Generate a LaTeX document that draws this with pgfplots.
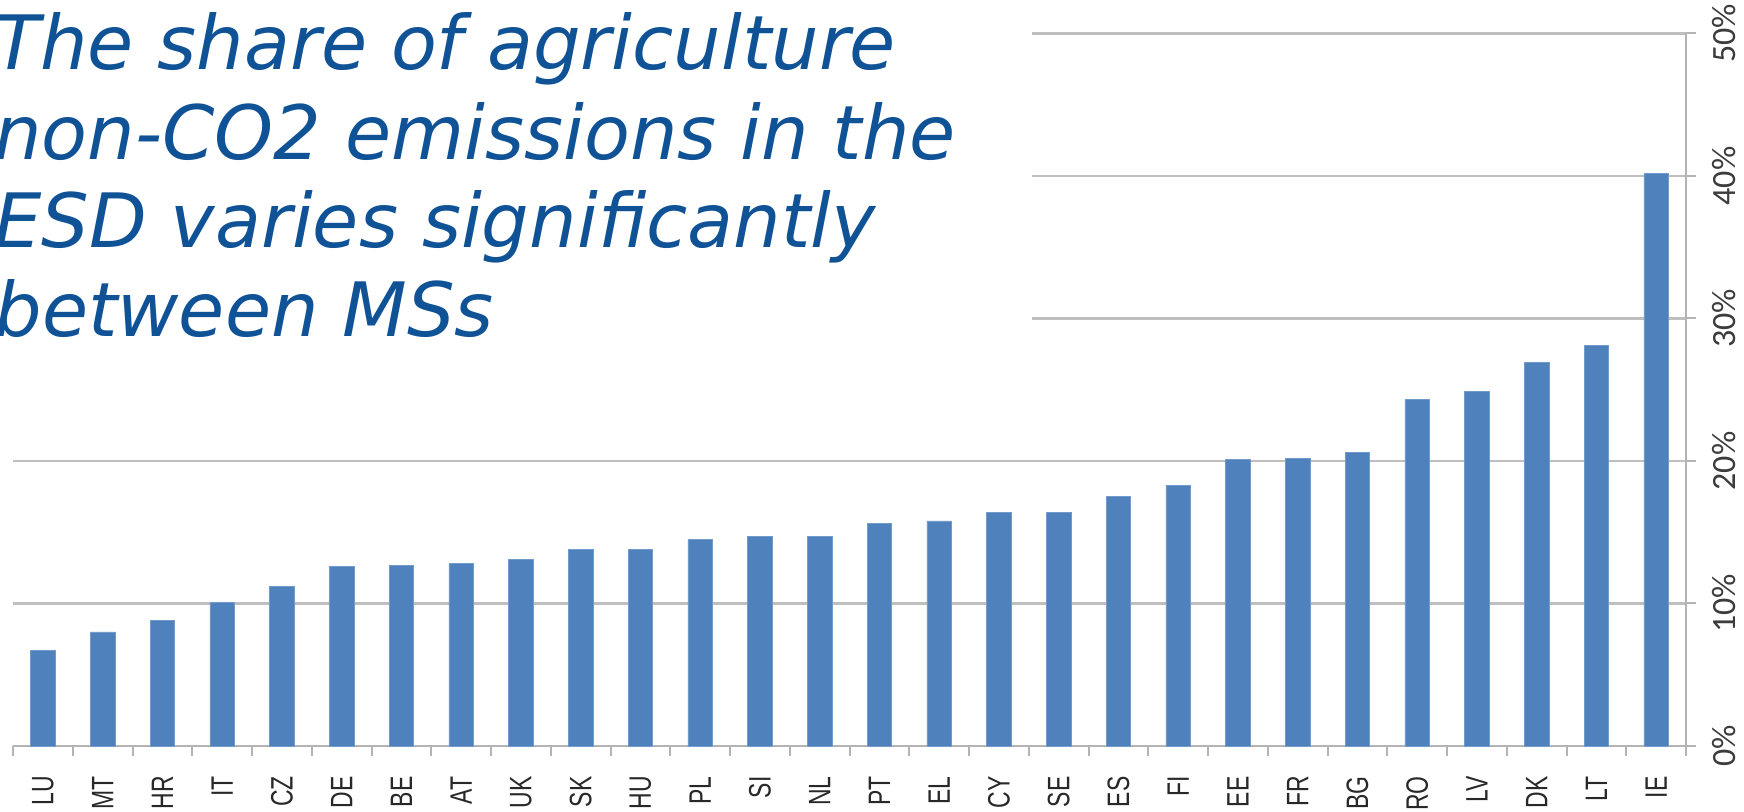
\documentclass[border=0pt]{standalone}
\usepackage{fontspec}
\usepackage{graphicx}
\usepackage{pgfplots}
\pgfplotsset{compat=1.18}
\setmainfont{Liberation Sans}
\newfontfamily\titlefont{DejaVu Sans}[ItalicFont={DejaVu Sans Oblique}]
\newfontfamily\ylabfont{Carlito}

\definecolor{barblue}{RGB}{79,129,189}
\definecolor{gridgray}{RGB}{191,191,191}
\definecolor{axisgray}{RGB}{180,180,180}
\definecolor{titleblue}{RGB}{16,82,150}
\definecolor{labgray}{RGB}{40,40,40}
\definecolor{ylabgray}{RGB}{60,60,60}

% narrow country codes along the text direction
\newcommand\sq[1]{\scalebox{0.74}[1]{#1}}

% Share of agriculture non-CO2 emissions in ESD emissions, per Member State (%)
\pgfplotstableread{
idx share
0  6.7
1  8.0
2  8.8
3  10.1
4  11.2
5  12.6
6  12.7
7  12.8
8  13.1
9  13.8
10 13.8
11 14.5
12 14.7
13 14.7
14 15.6
15 15.8
16 16.4
17 16.4
18 17.5
19 18.3
20 20.1
21 20.2
22 20.6
23 24.3
24 24.9
25 26.9
26 28.1
27 40.2
}\sharetable

\begin{document}
\begin{tikzpicture}[x=1pt,y=1pt]
\useasboundingbox (0,0) rectangle (872,405.5);
\begin{axis}[
  at={(6.5pt,32.5pt)}, anchor=south west,
  scale only axis, width=836.5pt, height=356.3pt,
  xmin=-0.5, xmax=27.5, ymin=0, ymax=50,
  axis x line*=bottom, axis y line*=right,
  axis line style={axisgray, line width=1.3pt},
  tick align=outside,
  xtick={0,...,27},
  xticklabels={\sq{LU},\sq{MT},\sq{HR},\sq{IT},\sq{CZ},\sq{DE},\sq{BE},\sq{AT},\sq{UK},\sq{SK},\sq{HU},\sq{PL},\sq{SI},\sq{NL},\sq{PT},\sq{EL},\sq{CY},\sq{SE},\sq{ES},\sq{FI},\sq{EE},\sq{FR},\sq{BG},\sq{RO},\sq{LV},\sq{DK},\sq{LT},\sq{IE}},
  minor xtick={-0.5,0.5,...,27.5},
  ytick={0,10,...,50},
  minor ytick={0,10,...,50},
  major tick length=0pt,
  minor tick length=5pt,
  minor tick style={axisgray, line width=1pt},
  ymajorgrids,
  major grid style={gridgray, line width=1.1pt},
  /pgf/number format/assume math mode=true,
  yticklabel={\pgfmathprintnumber{\tick}\%},
  xticklabel style={rotate=90, anchor=east, inner sep=0pt,
    font=\fontsize{15.5}{17}\selectfont, color=labgray},
  xticklabel shift=15pt,
  yticklabel style={rotate=90, anchor=north, inner sep=0pt,
    font=\ylabfont\fontsize{17}{19}\selectfont, color=ylabgray},
  yticklabel shift=13pt,
]
\addplot[ybar, bar width=12.2pt, fill=barblue, draw=barblue!80!white, line width=0.3pt]
  table[x=idx, y=share] {\sharetable};
\end{axis}
% white panel behind the heading
\fill[white] (0,405.5-199) rectangle (516,405.5);
\begin{scope}[every node/.style={anchor=base west, inner sep=0pt, color=titleblue,
    font=\titlefont\itshape\fontsize{37.5}{44}\selectfont}]
\node at (-3,370.5) {The share of agriculture};
\node at (-3,326) {non-CO2 emissions in the};
\node at (-3,282) {ESD varies significantly};
\node at (-3,237.5) {between MSs};
\end{scope}
\end{tikzpicture}
\end{document}
